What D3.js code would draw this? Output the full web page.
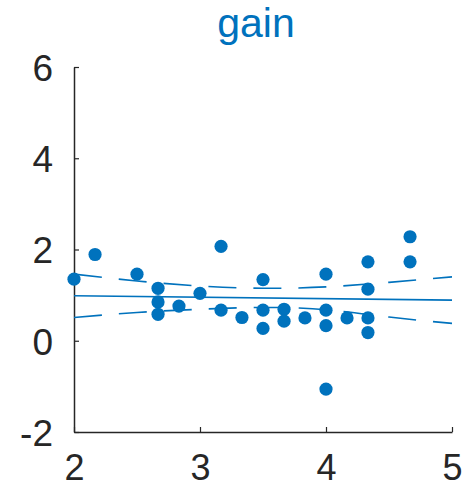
<!DOCTYPE html>
<html>
<head>
<meta charset="utf-8">
<script src="https://cdn.jsdelivr.net/npm/d3@7"></script>
<style>
  body { margin: 0; background: #fff; }
  svg { display: block; font-family: "Liberation Sans", Arial, sans-serif; }
</style>
</head>
<body>
<svg width="474" height="488"></svg>
<script>
var BLUE = "#0072BD";
var AXIS_COLOR = "#262626";

// scatter points
var pointX = [2.0, 2.167, 2.5, 2.667, 2.667, 2.667, 2.833, 3.0, 3.167, 3.167,
              3.333, 3.5, 3.5, 3.5, 3.667, 3.667, 3.833, 4.0, 4.0, 4.0, 4.0,
              4.167, 4.333, 4.333, 4.333, 4.333, 4.667, 4.667];
var pointY = [1.35, 1.89, 1.46, 1.15, 0.85, 0.58, 0.76, 1.04, 2.07, 0.67,
              0.51, 1.34, 0.67, 0.27, 0.69, 0.43, 0.50, 1.46, 0.67, 0.33, -1.06,
              0.50, 1.73, 1.13, 0.50, 0.18, 2.28, 1.73];

// fit line and confidence bounds
var fitX = [2, 5];
var fitY = [0.985, 0.89];
var bandX = [2, 2.5, 3, 3.5, 4, 4.5, 5];
var bandUpper = [1.46, 1.31, 1.20, 1.15, 1.18, 1.28, 1.40];
var bandLower = [0.51, 0.62, 0.69, 0.73, 0.68, 0.52, 0.38];

var xTicks = [2, 3, 4, 5];
var yTicks = [-2, 0, 2, 4, 6];

document.addEventListener("DOMContentLoaded", () => {
    let svg = d3.select("svg");

    let x = d3.scaleLinear().domain([2, 5]).range([74, 452]);
    let y = d3.scaleLinear().domain([-2, 6]).range([432, 67]);

    // title
    svg.append("text")
        .attr("x", 256)
        .attr("y", 37)
        .attr("text-anchor", "middle")
        .attr("fill", BLUE)
        .style("font-size", "41px")
        .text("gain");

    // axes
    let xAxis = svg.append("g")
        .attr("transform", "translate(0," + y(-2) + ")")
        .call(d3.axisBottom(x).tickValues(xTicks).tickFormat(d3.format("d"))
            .tickSizeInner(-5).tickSizeOuter(0).tickPadding(22));
    let yAxis = svg.append("g")
        .attr("transform", "translate(" + x(2) + ",0)")
        .call(d3.axisLeft(y).tickValues(yTicks).tickFormat(d => d < 0 ? "-" + Math.abs(d) : d)
            .tickSizeInner(-5).tickSizeOuter(0).tickPadding(21));

    for (let ax of [xAxis, yAxis]) {
        ax.select(".domain").attr("stroke", AXIS_COLOR).attr("stroke-width", 1.5);
        ax.selectAll(".tick line").attr("stroke", AXIS_COLOR).attr("stroke-width", 1.2);
        ax.selectAll(".tick text")
            .attr("fill", AXIS_COLOR)
            .style("font-size", "37px")
            .style("font-family", "Liberation Sans, Arial, sans-serif");
    }
    yAxis.selectAll(".tick text").attr("dy", "0.36em");
    xAxis.selectAll(".tick text").attr("dy", "0.72em").style("font-size", "36px");

    // fit line
    let line = d3.line().x(d => x(d[0])).y(d => y(d[1]));
    svg.append("path")
        .datum(d3.zip(fitX, fitY))
        .attr("fill", "none")
        .attr("stroke", BLUE)
        .attr("stroke-width", 1.6)
        .attr("d", line);

    // confidence bounds (dashed)
    let curved = d3.line().x(d => x(d[0])).y(d => y(d[1])).curve(d3.curveNatural);
    for (let band of [bandUpper, bandLower]) {
        svg.append("path")
            .datum(d3.zip(bandX, band))
            .attr("fill", "none")
            .attr("stroke", BLUE)
            .attr("stroke-width", 1.6)
            .attr("stroke-dasharray", "28,17")
            .attr("d", curved);
    }

    // points
    svg.append("g")
        .selectAll("circle")
        .data(d3.zip(pointX, pointY))
        .enter().append("circle")
            .attr("cx", d => x(d[0]))
            .attr("cy", d => y(d[1]))
            .attr("r", 6.6)
            .attr("fill", BLUE);
});
</script>
</body>
</html>
